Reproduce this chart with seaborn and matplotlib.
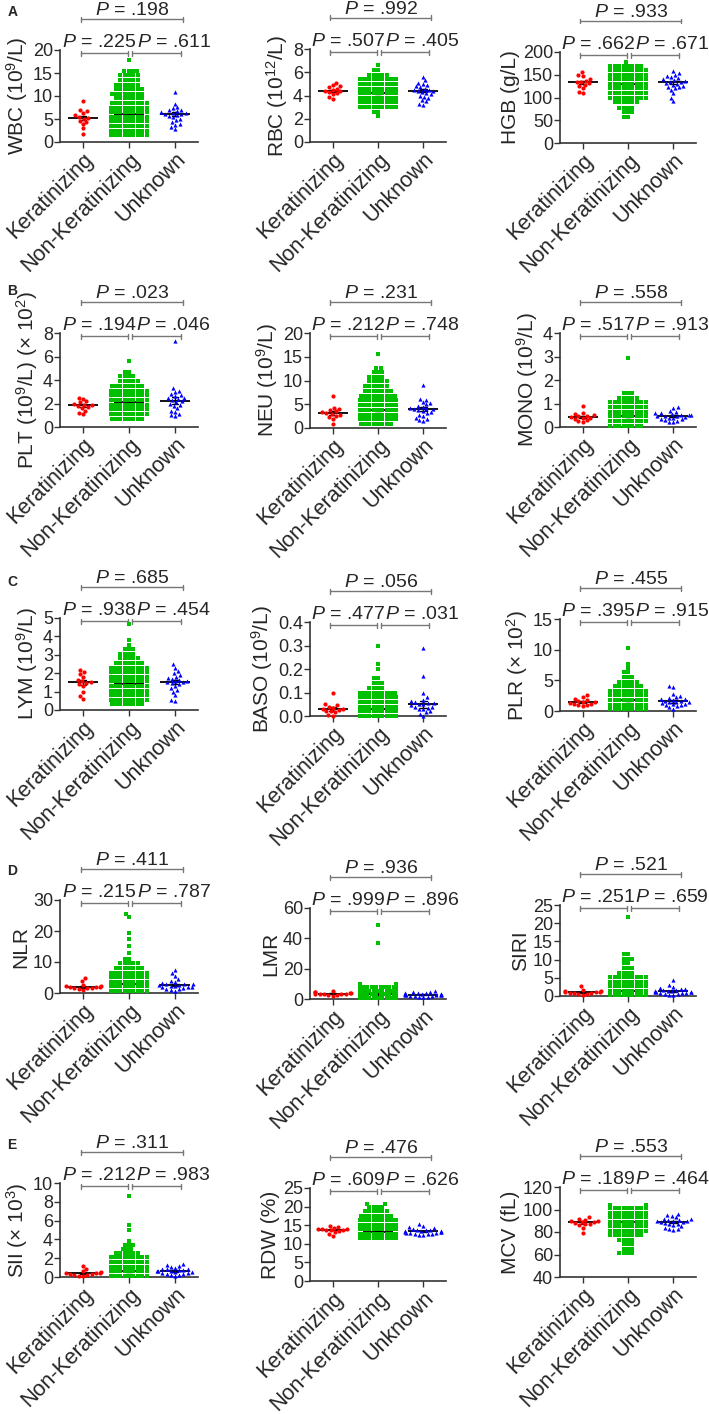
import warnings
import numpy as np
import pandas as pd
import matplotlib
matplotlib.use('Agg')
import matplotlib.pyplot as plt
import matplotlib.transforms as mtransforms
import seaborn as sns

warnings.filterwarnings('ignore')

groups = ['Keratinizing', 'Non-Keratinizing', 'Unknown']
colors = ['#ff0000', '#00c000', '#0000ff']
markers = ['o', 's', '^']

# ---- values (Non-Keratinizing given as level + count) ----
wbc_ker = [9.0, 7.0, 6.7, 6.3, 5.8, 5.5, 5.2, 5.0, 4.6, 4.3, 3.9, 3.0, 1.8]
wbc_unk = [10.9, 8.3, 7.6, 7.3, 7.0, 6.9, 6.7, 6.5, 6.3, 6.2, 6.1, 6.0, 5.8, 5.6, 5.4, 5.0, 4.7, 4.3, 3.9, 3.8, 3.3, 2.9]
wbc_nk_levels = [1.5, 2.5, 3.5, 4.5, 5.5, 6.5, 7.5, 8.5, 9.5, 10.5, 11.5, 12.5, 13.5, 14.5, 15.4, 17.8]
wbc_nk_counts = [10, 14, 16, 18, 19, 13, 12, 9, 7, 8, 7, 6, 5, 5, 4, 1]
wbc_p = ['.225', '.611', '.198']

rbc_ker = [5.1, 4.9, 4.8, 4.7, 4.6, 4.5, 4.4, 4.4, 4.3, 4.2, 4.1, 3.9, 3.7]
rbc_unk = [5.6, 5.3, 5.1, 5.0, 4.9, 4.8, 4.7, 4.6, 4.5, 4.5, 4.4, 4.4, 4.3, 4.2, 4.1, 4.0, 3.9, 3.8, 3.6, 3.5, 3.3, 3.2]
rbc_nk_levels = [2.2, 2.6, 3.0, 3.4, 3.8, 4.2, 4.6, 5.0, 5.4, 5.8, 6.2, 6.6]
rbc_nk_counts = [1, 2, 12, 14, 18, 20, 18, 16, 12, 5, 2, 1]
rbc_p = ['.507', '.405', '.992']

hgb_ker = [157, 150, 148, 140, 137, 135, 133, 131, 128, 125, 120, 113, 110]
hgb_unk = [158, 153, 150, 148, 145, 142, 140, 138, 136, 135, 134, 132, 130, 128, 126, 124, 122, 120, 117, 110, 100, 93]
hgb_nk_levels = [58, 68, 78, 90, 100, 110, 120, 130, 140, 150, 160, 170, 178]
hgb_nk_counts = [2, 3, 4, 6, 12, 16, 20, 22, 20, 16, 14, 8, 1]
hgb_p = ['.662', '.671', '.933']

plt_ker = [2.5, 2.4, 2.2, 2.1, 2.0, 1.9, 1.85, 1.8, 1.7, 1.6, 1.4, 1.2, 1.1]
plt_unk = [7.3, 3.3, 3.1, 3.0, 2.8, 2.7, 2.6, 2.5, 2.45, 2.4, 2.3, 2.2, 2.1, 2.0, 1.9, 1.8, 1.6, 1.4, 1.3, 1.1, 1.0, 0.9]
plt_nk_levels = [0.7, 1.1, 1.5, 1.9, 2.3, 2.7, 3.1, 3.5, 3.9, 4.3, 4.7, 5.6]
plt_nk_counts = [8, 12, 20, 22, 18, 14, 10, 8, 5, 4, 2, 1]
plt_p = ['.194', '.046', '.023']

neu_ker = [6.7, 4.3, 4.0, 3.8, 3.5, 3.3, 3.1, 3.0, 2.8, 2.6, 2.4, 2.0, 0.8]
neu_unk = [9.0, 6.2, 6.0, 5.5, 5.2, 5.0, 4.7, 4.5, 4.3, 4.1, 4.0, 3.9, 3.7, 3.5, 3.3, 3.1, 2.8, 2.5, 2.2, 2.0, 1.6, 1.5]
neu_nk_levels = [0.8, 1.8, 2.8, 3.8, 4.8, 5.8, 6.8, 7.8, 8.8, 9.8, 10.8, 11.8, 12.6, 15.5]
neu_nk_counts = [8, 22, 26, 22, 16, 12, 9, 7, 6, 5, 4, 3, 2, 1]
neu_p = ['.212', '.748', '.231']

mono_ker = [0.88, 0.6, 0.55, 0.5, 0.48, 0.45, 0.43, 0.4, 0.38, 0.35, 0.3, 0.25, 0.22]
mono_unk = [0.85, 0.82, 0.7, 0.65, 0.6, 0.58, 0.55, 0.52, 0.5, 0.5, 0.48, 0.46, 0.45, 0.43, 0.4, 0.38, 0.35, 0.32, 0.3, 0.27, 0.22, 0.2]
mono_nk_levels = [0.05, 0.25, 0.45, 0.65, 0.85, 1.05, 1.25, 1.45, 2.95]
mono_nk_counts = [8, 30, 34, 24, 14, 9, 5, 3, 1]
mono_p = ['.517', '.913', '.558']

lym_ker = [2.2, 2.05, 1.95, 1.8, 1.65, 1.55, 1.5, 1.45, 1.4, 1.3, 1.0, 0.75, 0.6]
lym_unk = [2.5, 2.3, 2.1, 2.0, 1.9, 1.8, 1.75, 1.7, 1.65, 1.6, 1.55, 1.5, 1.5, 1.45, 1.4, 1.3, 1.2, 1.1, 1.0, 0.8, 0.55, 0.5]
lym_nk_levels = [0.3, 0.55, 0.8, 1.05, 1.3, 1.55, 1.8, 2.05, 2.3, 2.55, 2.8, 3.05, 3.3, 3.55, 3.8, 4.65]
lym_nk_counts = [8, 16, 20, 22, 20, 22, 18, 14, 10, 7, 5, 4, 3, 1, 1, 1]
lym_p = ['.938', '.454', '.685']

baso_ker = [0.10, 0.05, 0.045, 0.04, 0.035, 0.03, 0.03, 0.025, 0.02, 0.02, 0.015, 0.005, 0.0]
baso_unk = [0.29, 0.17, 0.10, 0.08, 0.07, 0.065, 0.06, 0.055, 0.055, 0.05, 0.05, 0.045, 0.04, 0.04, 0.035, 0.03, 0.03, 0.02, 0.015, 0.01, 0.0]
baso_nk_levels = [0.0, 0.02, 0.04, 0.06, 0.08, 0.10, 0.12, 0.14, 0.16, 0.20, 0.22, 0.30]
baso_nk_counts = [35, 42, 28, 15, 12, 10, 4, 3, 2, 1, 1, 1]
baso_p = ['.477', '.031', '.056']

plr_ker = [2.6, 2.3, 2.0, 1.8, 1.6, 1.5, 1.4, 1.3, 1.2, 1.1, 1.0, 0.9, 0.8]
plr_unk = [4.0, 3.9, 2.8, 2.5, 2.3, 2.1, 2.0, 1.9, 1.8, 1.7, 1.6, 1.5, 1.5, 1.4, 1.3, 1.2, 1.1, 1.0, 0.9, 0.8, 0.6, 0.4]
plr_nk_levels = [0.3, 1.05, 1.8, 2.55, 3.3, 4.05, 4.8, 5.55, 6.3, 7.0, 7.7, 10.3]
plr_nk_counts = [14, 40, 36, 22, 12, 7, 5, 3, 2, 1, 1, 1]
plr_p = ['.395', '.915', '.455']

nlr_ker = [4.7, 3.8, 2.5, 2.3, 2.1, 2.0, 1.9, 1.8, 1.7, 1.6, 1.5, 1.3, 1.1]
nlr_unk = [7.5, 6.5, 5.5, 4.5, 4.0, 3.6, 3.3, 3.0, 2.9, 2.8, 2.7, 2.5, 2.4, 2.2, 2.0, 1.9, 1.8, 1.6, 1.4, 1.2, 1.0, 0.8]
nlr_nk_levels = [0.6, 2.1, 3.6, 5.1, 6.6, 8.1, 9.6, 11.1, 12.8, 15.2, 17.5, 19.5, 24.4, 25.4]
nlr_nk_counts = [25, 58, 35, 18, 10, 7, 5, 2, 1, 1, 1, 1, 1, 1]
nlr_p = ['.215', '.787', '.411']

lmr_ker = [5.0, 4.6, 4.3, 4.0, 3.8, 3.6, 3.5, 3.3, 3.1, 3.0, 2.8, 2.5, 2.2]
lmr_unk = [5.0, 4.8, 4.5, 4.2, 4.0, 3.8, 3.6, 3.4, 3.3, 3.2, 3.0, 2.9, 2.8, 2.7, 2.5, 2.4, 2.2, 2.0, 1.8, 1.5, 1.2, 1.0]
lmr_nk_levels = [0.5, 3.0, 5.5, 8.0, 10.0, 37.0, 49.0]
lmr_nk_counts = [50, 90, 40, 14, 6, 1, 1]
lmr_p = ['.999', '.896', '.936']

siri_ker = [2.7, 1.6, 1.4, 1.3, 1.2, 1.1, 1.0, 0.9, 0.8, 0.7, 0.6, 0.5, 0.4]
siri_unk = [4.3, 3.0, 2.6, 2.3, 2.0, 1.8, 1.7, 1.6, 1.5, 1.4, 1.3, 1.2, 1.1, 1.0, 1.0, 0.9, 0.8, 0.7, 0.6, 0.5, 0.4, 0.3]
siri_nk_levels = [0.2, 1.45, 2.7, 3.95, 5.2, 6.45, 7.7, 9.0, 10.3, 11.5, 21.8]
siri_nk_counts = [50, 60, 30, 15, 10, 4, 3, 2, 3, 2, 1]
siri_p = ['.251', '.659', '.521']

sii_ker = [1.2, 0.9, 0.6, 0.5, 0.45, 0.4, 0.38, 0.35, 0.3, 0.25, 0.2, 0.15, 0.1]
sii_unk = [1.4, 1.3, 1.2, 1.1, 1.0, 0.9, 0.85, 0.8, 0.75, 0.7, 0.65, 0.6, 0.6, 0.55, 0.5, 0.45, 0.4, 0.35, 0.3, 0.25, 0.2, 0.1]
sii_nk_levels = [0.1, 0.6, 1.1, 1.6, 2.1, 2.6, 3.0, 3.4, 3.85, 5.05, 5.5, 8.6]
sii_nk_counts = [40, 50, 30, 20, 12, 6, 3, 3, 1, 1, 1, 1]
sii_p = ['.212', '.983', '.311']

rdw_ker = [14.9, 14.5, 14.3, 14.1, 14.0, 13.9, 13.8, 13.7, 13.6, 13.4, 13.2, 12.6, 12.2]
rdw_unk = [15.2, 14.7, 14.4, 14.2, 14.0, 13.8, 13.7, 13.6, 13.5, 13.4, 13.4, 13.3, 13.2, 13.1, 13.0, 12.9, 12.8, 12.7, 12.7, 12.6, 12.5, 12.5]
rdw_nk_levels = [11.5, 12.7, 13.9, 15.1, 16.3, 17.5, 18.7, 19.9, 20.8]
rdw_nk_counts = [35, 52, 35, 20, 12, 8, 6, 4, 2]
rdw_p = ['.609', '.626', '.476']

mcv_ker = [93, 92, 91, 90, 89.5, 89, 88.5, 88, 87.5, 87, 86, 84, 79]
mcv_unk = [96, 95, 94, 93, 92, 91.5, 91, 90.5, 90, 90, 89.5, 89, 88.5, 88, 87.5, 87, 86, 85, 84, 83, 82.5, 82]
mcv_nk_levels = [61, 65, 69, 73, 77, 81, 85, 89, 93, 97, 101, 104]
mcv_nk_counts = [4, 3, 3, 4, 8, 14, 22, 30, 30, 22, 12, 3]
mcv_p = ['.189', '.464', '.553']

# ---- style ----
sns.set_style('ticks')
plt.rcParams['font.family'] = ['Liberation Sans', 'DejaVu Sans']
plt.rcParams['mathtext.fontset'] = 'custom'
plt.rcParams['mathtext.rm'] = 'Liberation Sans'
plt.rcParams['mathtext.it'] = 'Liberation Sans:italic'
plt.rcParams['mathtext.default'] = 'regular'

W, H = 709, 1414
fig = plt.figure(figsize=(W / 100, H / 100), dpi=100)

col_x = [(60, 198), (310, 446), (560, 696)]

# ylabel, ker, nk levels, nk counts, unk, p, ylim, yticks, column, top px, bottom px
panels = [
    ('WBC (10$^9$/L)', wbc_ker, wbc_nk_levels, wbc_nk_counts, wbc_unk, wbc_p, (0, 20), [0, 5, 10, 15, 20], 0, 50, 142),
    ('RBC (10$^{12}$/L)', rbc_ker, rbc_nk_levels, rbc_nk_counts, rbc_unk, rbc_p, (0, 8), [0, 2, 4, 6, 8], 1, 49, 142),
    ('HGB (g/L)', hgb_ker, hgb_nk_levels, hgb_nk_counts, hgb_unk, hgb_p, (0, 200), [0, 50, 100, 150, 200], 2, 52, 143),
    ('PLT (10$^9$/L) (× 10$^2$)', plt_ker, plt_nk_levels, plt_nk_counts, plt_unk, plt_p, (0, 8), [0, 2, 4, 6, 8], 0, 333, 427),
    ('NEU (10$^9$/L)', neu_ker, neu_nk_levels, neu_nk_counts, neu_unk, neu_p, (0, 20), [0, 5, 10, 15, 20], 1, 333, 428),
    ('MONO (10$^9$/L)', mono_ker, mono_nk_levels, mono_nk_counts, mono_unk, mono_p, (0, 4), [0, 1, 2, 3, 4], 2, 333, 427),
    ('LYM (10$^9$/L)', lym_ker, lym_nk_levels, lym_nk_counts, lym_unk, lym_p, (0, 5), [0, 1, 2, 3, 4, 5], 0, 618, 710),
    ('BASO (10$^9$/L)', baso_ker, baso_nk_levels, baso_nk_counts, baso_unk, baso_p, (0, 0.4), [0, 0.1, 0.2, 0.3, 0.4], 1, 622, 716),
    ('PLR (× 10$^2$)', plr_ker, plr_nk_levels, plr_nk_counts, plr_unk, plr_p, (0, 15), [0, 5, 10, 15], 2, 619, 711),
    ('NLR', nlr_ker, nlr_nk_levels, nlr_nk_counts, nlr_unk, nlr_p, (0, 30), [0, 10, 20, 30], 0, 900, 993),
    ('LMR', lmr_ker, lmr_nk_levels, lmr_nk_counts, lmr_unk, lmr_p, (0, 60), [0, 20, 40, 60], 1, 908, 999),
    ('SIRI', siri_ker, siri_nk_levels, siri_nk_counts, siri_unk, siri_p, (0, 25), [0, 5, 10, 15, 20, 25], 2, 905, 996),
    ('SII (× 10$^3$)', sii_ker, sii_nk_levels, sii_nk_counts, sii_unk, sii_p, (0, 10), [0, 2, 4, 6, 8, 10], 0, 1183, 1277),
    ('RDW (%)', rdw_ker, rdw_nk_levels, rdw_nk_counts, rdw_unk, rdw_p, (0, 25), [0, 5, 10, 15, 20, 25], 1, 1188, 1281),
    ('MCV (fL)', mcv_ker, mcv_nk_levels, mcv_nk_counts, mcv_unk, mcv_p, (40, 120), [40, 60, 80, 100, 120], 2, 1187, 1277),
]

for ylabel, ker, nk_lv, nk_n, unk, pv, ylim, yticks, col, top, bot in panels:
    x0, x1 = col_x[col]
    ax = fig.add_axes([x0 / W, 1 - bot / H, (x1 - x0) / W, (bot - top) / H])
    h = bot - top

    nk = np.repeat(nk_lv, nk_n)
    df = pd.DataFrame({
        'group': [groups[0]] * len(ker) + [groups[1]] * len(nk) + [groups[2]] * len(unk),
        'value': np.concatenate([ker, nk, unk]).astype(float),
    })

    for g, c, m in zip(groups, colors, markers):
        sns.swarmplot(data=df[df['group'] == g], x='group', y='value', order=groups,
                      color=c, marker=m, size=3.0, linewidth=0, warn_thresh=1, ax=ax)
    for coll in ax.collections:
        coll.set_clip_on(False)

    sns.pointplot(data=df, x='group', y='value', order=groups, estimator='median',
                  errorbar='se', color='black', markers='_', linestyles='none',
                  markersize=22, markeredgewidth=1.3, capsize=0.14,
                  err_kws={'linewidth': 1.0}, ax=ax)

    ax.set_xlim(-0.5, 2.5)
    ax.set_ylim(*ylim)
    ax.set_yticks(yticks)
    ax.set_xlabel('')
    ax.set_ylabel(ylabel, fontsize=15, labelpad=2)
    ax.tick_params(axis='y', labelsize=13, length=4, width=1, pad=1, color='#333333')
    ax.tick_params(axis='x', labelsize=15.5, length=4, width=1, pad=1, color='#333333')
    plt.setp(ax.get_xticklabels(), rotation=45, ha='right', va='top', rotation_mode='anchor')
    sns.despine(ax=ax)
    for s in ['left', 'bottom']:
        ax.spines[s].set_linewidth(1.2)
        ax.spines[s].set_color('#333333')

    # significance brackets
    tr = mtransforms.blended_transform_factory(ax.transData, ax.transAxes)
    y_low = 1 - 3 / h
    y_top = y_low + 34 / h
    tk = 2.5 / h
    for (bx0, bx1, by) in [(-0.05, 0.97, y_low), (1.07, 2.12, y_low), (-0.05, 2.17, y_top)]:
        ax.plot([bx0, bx1], [by, by], color='#777777', lw=1, transform=tr, clip_on=False)
        for bx in (bx0, bx1):
            ax.plot([bx, bx], [by - tk, by + tk], color='#777777', lw=1, transform=tr, clip_on=False)
    txt_kw = dict(transform=tr, ha='center', va='baseline', fontsize=14, clip_on=False)
    ax.text(0.35, y_low + 6 / h, r'$\mathit{P}$ = ' + pv[0], **txt_kw)
    ax.text(1.97, y_low + 6 / h, r'$\mathit{P}$ = ' + pv[1], **txt_kw)
    ax.text(1.06, y_top + 4 / h, r'$\mathit{P}$ = ' + pv[2], **txt_kw)

for letter, (lx, ly) in zip('ABCDE', [(13, 12), (12, 291), (12, 582), (12, 871), (12, 1145)]):
    fig.text(lx / W, 1 - ly / H, letter, fontsize=10, fontweight='bold', ha='center', va='center')

fig.savefig('out.png', dpi=100)
